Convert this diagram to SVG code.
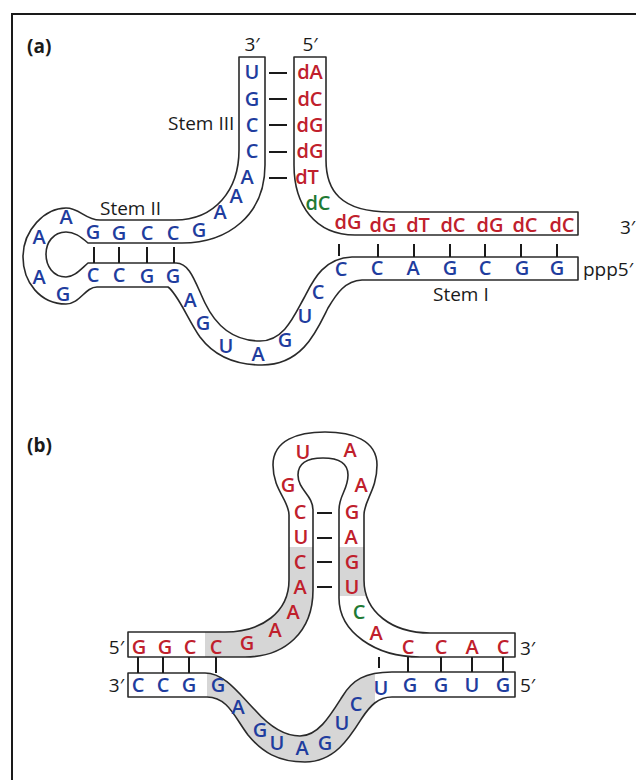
<svg xmlns="http://www.w3.org/2000/svg" width="636" height="780" viewBox="0 0 636 780">
  <style>
    text { font-family: "Open Sans", "Liberation Sans", sans-serif; }
    .base { font-size: 20px; font-weight: 600; text-anchor: middle; }
    .rna { fill: #1f3d9e; }
    .dna { fill: #c0202c; }
    .grn { fill: #1f7a34; }
    .lbl { font-size: 19px; fill: #1a1a1a; }
    .tag { font-size: 19px; font-weight: bold; fill: #1a1a1a; }
    .tube { fill: #ffffff; }
    .core { fill: #d6d6d6; }
    .edge { fill: none; stroke: #2a2a2a; stroke-width: 1.6; stroke-linejoin: round; }
    .pair { stroke: #1a1a1a; stroke-width: 2; }
  </style>
  <defs>
    <!-- panel (a): RNA strand (3' top, stem II loop, wave, stem I 5' end) -->
    <path id="rnaA" d="M239,57 H265 V165 C265,215 228,243 182,243 H88 C80,236 74,232 66,232 C53,232 46,243 46,254 C46,266 53,277 66,277 C74,277 80,270 88,263 H176 C190,263 195,282 205,303 C218,330 238,341 260,341 C284,341 294,316 304,298 C312,283 322,258 352,257 H578 V280 H362 C345,281 337,293 328,308 C317,330 303,365 262,365 C230,365 212,353 200,337 C188,320 178,294 168,287 H97 C85,287 80,304 66,304 C40,304 23,282 23,257 C23,230 45,208 66,208 C80,208 85,220 100,220 H175 C215,220 239,190 239,150 Z"/>
    <!-- panel (a): DNA strand -->
    <path id="dnaA" d="M294,57 H326 V160 C326,190 340,212 390,212 H578 V235 H355 C315,235 294,205 294,165 Z"/>
    <!-- panel (b): upper strand with hairpin -->
    <path id="topB" d="M128,632 H225 C262,632 289,612 289,580 V515 C289,500 273,490 273,465 C273,440 298,432 325,432 C352,432 377,440 377,465 C377,490 364,500 364,515 V580 C364,612 392,633 430,633 H515 V657 H420 C375,657 339,632 339,598 V510 C339,495 348,490 348,475 C348,462 337,458 323,458 C309,458 298,462 298,475 C298,490 313,495 313,510 V590 C313,632 285,657 245,657 H128 Z"/>
    <!-- panel (b): lower strand with wave -->
    <path id="botB" d="M128,673 H205 C225,673 240,695 255,710 C270,727 285,736 300,736 C318,736 330,716 342,697 C352,680 365,672 392,672 H515 V697 H392 C378,697 370,706 362,718 C350,737 335,762 305,762 C278,762 262,752 248,735 C235,718 228,697 207,697 H128 Z"/>
    <clipPath id="coreTop">
      <rect x="205" y="547" width="121" height="120"/>
      <rect x="330" y="547" width="40" height="49"/>
    </clipPath>
    <clipPath id="coreBot">
      <rect x="207" y="660" width="168" height="110"/>
    </clipPath>
  </defs>

  <!-- outer frame -->
  <rect id="frame" x="12" y="14" width="640" height="790" fill="none" stroke="#1a1a1a" stroke-width="2"/>

  <!-- ===== panel (a) ===== -->
  <text class="tag" x="27" y="53">(a)</text>
  <text class="lbl" x="252" y="51" text-anchor="middle">3′</text>
  <text class="lbl" x="310" y="51" text-anchor="middle">5′</text>
  <text class="lbl" x="168" y="130">Stem III</text>
  <text class="lbl" x="100" y="215">Stem II</text>
  <text class="lbl" x="433" y="301">Stem I</text>
  <text class="lbl" x="620" y="234">3′</text>
  <text class="lbl" x="583" y="276">ppp5′</text>

  <g id="rna-a">
    <use href="#rnaA" class="tube"/>
    <use href="#rnaA" class="edge"/>
    <g class="base rna">
      <text x="252" y="79">U</text>
      <text x="252" y="106">G</text>
      <text x="252" y="132">C</text>
      <text x="252" y="158">C</text>
      <text x="247" y="184">A</text>
      <text x="236" y="203">A</text>
      <text x="220" y="219">A</text>
      <text x="199" y="237">G</text>
      <text x="173" y="240">C</text>
      <text x="147" y="240">C</text>
      <text x="119" y="240">G</text>
      <text x="93" y="239">G</text>
      <text x="66" y="224">A</text>
      <text x="39" y="244">A</text>
      <text x="39" y="284">A</text>
      <text x="63" y="301">G</text>
      <text x="93" y="282">C</text>
      <text x="119" y="282">C</text>
      <text x="147" y="283">G</text>
      <text x="173" y="283">G</text>
      <text x="190" y="307">A</text>
      <text x="203" y="330">G</text>
      <text x="226" y="353">U</text>
      <text x="258" y="361">A</text>
      <text x="285" y="347">G</text>
      <text x="305" y="323">U</text>
      <text x="318" y="299">C</text>
      <text x="341" y="276">C</text>
      <text x="377" y="275">C</text>
      <text x="413" y="275">A</text>
      <text x="450" y="275">G</text>
      <text x="485" y="275">C</text>
      <text x="522" y="275">G</text>
      <text x="557" y="275">G</text>
    </g>
  </g>

  <g id="dna-a">
    <use href="#dnaA" class="tube"/>
    <use href="#dnaA" class="edge"/>
    <g class="base dna">
      <text x="310" y="79">dA</text>
      <text x="310" y="106">dC</text>
      <text x="310" y="132">dG</text>
      <text x="310" y="158">dG</text>
      <text x="307" y="184">dT</text>
      <text x="318" y="210" class="grn">dC</text>
      <text x="348" y="229">dG</text>
      <text x="383" y="232">dG</text>
      <text x="418" y="232">dT</text>
      <text x="453" y="232">dC</text>
      <text x="490" y="232">dG</text>
      <text x="525" y="232">dC</text>
      <text x="562" y="232">dC</text>
    </g>
  </g>

  <!-- ===== panel (b) ===== -->
  <text class="tag" x="27" y="452">(b)</text>
  <text class="lbl" x="124" y="654" text-anchor="end">5′</text>
  <text class="lbl" x="124" y="692" text-anchor="end">3′</text>
  <text class="lbl" x="520" y="655">3′</text>
  <text class="lbl" x="520" y="692">5′</text>

  <g id="strand-b-top">
    <use href="#topB" class="tube"/>
    <use href="#topB" class="core" clip-path="url(#coreTop)"/>
    <use href="#topB" class="edge"/>
    <g class="base dna">
      <text x="303" y="459">U</text>
      <text x="288" y="492">G</text>
      <text x="300" y="519">C</text>
      <text x="301" y="544">U</text>
      <text x="300" y="569">C</text>
      <text x="300" y="594">A</text>
      <text x="293" y="619">A</text>
      <text x="275" y="637">A</text>
      <text x="247" y="650">G</text>
      <text x="216" y="654">C</text>
      <text x="190" y="654">C</text>
      <text x="165" y="654">G</text>
      <text x="139" y="654">G</text>
      <text x="350" y="457">A</text>
      <text x="361" y="492">A</text>
      <text x="352" y="519">G</text>
      <text x="351" y="544">A</text>
      <text x="352" y="569">G</text>
      <text x="352" y="594">U</text>
      <text x="359" y="619" class="grn">C</text>
      <text x="376" y="640">A</text>
      <text x="408" y="654">C</text>
      <text x="441" y="654">C</text>
      <text x="472" y="654">A</text>
      <text x="503" y="654">C</text>
    </g>
  </g>

  <g id="strand-b-bottom">
    <use href="#botB" class="tube"/>
    <use href="#botB" class="core" clip-path="url(#coreBot)"/>
    <use href="#botB" class="edge"/>
    <g class="base rna">
      <text x="138" y="692">C</text>
      <text x="163" y="692">C</text>
      <text x="189" y="692">G</text>
      <text x="218" y="692">G</text>
      <text x="238" y="714">A</text>
      <text x="260" y="737">G</text>
      <text x="277" y="750">U</text>
      <text x="302" y="755">A</text>
      <text x="325" y="750">G</text>
      <text x="342" y="730">U</text>
      <text x="356" y="711">C</text>
      <text x="381" y="695">U</text>
      <text x="410" y="692">G</text>
      <text x="441" y="692">G</text>
      <text x="472" y="692">U</text>
      <text x="503" y="692">G</text>
    </g>
  </g>

  <!-- base-pair connectors -->
  <g id="connectors" class="pair">
    <line x1="269" y1="73" x2="287" y2="73"/>
    <line x1="269" y1="99" x2="287" y2="99"/>
    <line x1="269" y1="125" x2="287" y2="125"/>
    <line x1="269" y1="152" x2="287" y2="152"/>
    <line x1="269" y1="178" x2="287" y2="178"/>
    <line x1="94" y1="247" x2="94" y2="263"/>
    <line x1="119" y1="247" x2="119" y2="263"/>
    <line x1="147" y1="247" x2="147" y2="263"/>
    <line x1="174" y1="247" x2="174" y2="263"/>
    <line x1="339" y1="244" x2="339" y2="256"/>
    <line x1="378" y1="244" x2="378" y2="257"/>
    <line x1="414" y1="244" x2="414" y2="257"/>
    <line x1="450" y1="244" x2="450" y2="257"/>
    <line x1="485" y1="244" x2="485" y2="257"/>
    <line x1="521" y1="244" x2="521" y2="257"/>
    <line x1="557" y1="244" x2="557" y2="257"/>
    <line x1="317" y1="513" x2="332" y2="513"/>
    <line x1="317" y1="538" x2="332" y2="538"/>
    <line x1="317" y1="562" x2="332" y2="562"/>
    <line x1="317" y1="587" x2="332" y2="587"/>
    <line x1="138" y1="657" x2="138" y2="673"/>
    <line x1="163" y1="657" x2="163" y2="673"/>
    <line x1="189" y1="657" x2="189" y2="673"/>
    <line x1="216" y1="657" x2="216" y2="673"/>
    <line x1="379" y1="657" x2="379" y2="668"/>
    <line x1="408" y1="657" x2="408" y2="672"/>
    <line x1="441" y1="657" x2="441" y2="672"/>
    <line x1="472" y1="657" x2="472" y2="672"/>
    <line x1="503" y1="657" x2="503" y2="672"/>
  </g>
</svg>
